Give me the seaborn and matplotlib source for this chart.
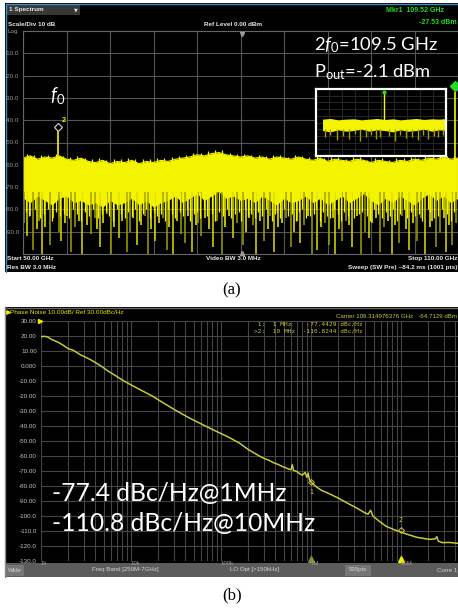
import numpy as np
import matplotlib
matplotlib.use("Agg")
import matplotlib.pyplot as plt
from matplotlib.patches import Rectangle
from matplotlib.ticker import LogLocator, NullFormatter
import seaborn as sns

# ---- data ----
# (a) spectrum 50-110 GHz, dBm
band_freq = list(range(50, 111))
band_top = [-57.0, -56.0, -57.5, -56.5, -57.0, -56.0, -57.5, -58.0, -57.0, -58.5,
            -59.0, -58.0, -59.5, -58.5, -59.0, -58.0, -59.5, -58.5, -59.0, -58.0,
            -58.5, -57.5, -57.0, -56.5, -55.5, -56.0, -55.0, -54.5, -55.5, -56.0,
            -56.5, -56.0, -57.0, -56.5, -57.5, -56.5, -57.0, -57.5, -56.5, -57.5,
            -58.0, -57.0, -58.5, -57.5, -58.0, -58.5, -57.5, -58.0, -59.0, -58.0,
            -58.5, -59.0, -58.0, -58.5, -57.5, -58.0, -57.0, -57.5, -56.5, -57.5,
            -57.0]
band_bottom = [-75, -77, -74, -76, -78, -75, -74, -77, -76, -78,
               -77, -79, -76, -78, -77, -75, -78, -76, -79, -77,
               -76, -74, -77, -75, -73, -76, -74, -72, -75, -74,
               -76, -75, -77, -74, -76, -78, -75, -77, -76, -74,
               -77, -75, -78, -76, -74, -77, -75, -73, -76, -78,
               -75, -77, -74, -76, -78, -75, -73, -76, -74, -77,
               -75]
grass_freq = [f + 0.5 for f in range(50, 110)]
grass_level = [-55.0, -55.5, -55.5, -55.5, -55.0, -56.0, -56.5, -56.0, -57.0, -57.5,
               -57.0, -58.0, -57.5, -57.5, -57.0, -57.5, -57.5, -57.5, -57.0, -57.0,
               -56.5, -56.0, -55.5, -54.5, -54.5, -54.0, -53.5, -53.5, -54.5, -55.0,
               -55.0, -55.5, -55.5, -56.0, -55.5, -55.5, -56.5, -55.5, -56.0, -56.5,
               -56.0, -57.0, -56.5, -56.5, -57.5, -56.5, -56.5, -58.0, -57.0, -57.0,
               -58.0, -57.0, -57.0, -56.5, -57.0, -56.0, -56.0, -55.5, -56.0, -56.0]
deep_freq = [50.6, 51.4, 52.6, 53.7, 55.3, 56.6, 58.2, 59.4, 60.6, 62.1,
             63.2, 64.3, 65.7, 67.2, 68.2, 69.8, 70.7, 72.3, 73.3, 74.6,
             76.2, 77.4, 79.0, 80.3, 82.1, 83.3, 84.6, 86.9, 88.2, 89.9,
             90.6, 92.2, 93.1, 94.0, 95.4, 96.6, 97.7, 99.3, 100.9, 101.8,
             103.2, 104.4, 105.5, 106.9, 108.3, 109.2]
deep_level = [-92, -98, -100, -96, -94, -99, -100, -91, -97, -100,
              -93, -99, -96, -100, -94, -98, -100, -95, -99, -92,
              -97, -100, -93, -96, -100, -94, -99, -97, -95, -100,
              -98, -96, -100, -94, -97, -100, -93, -99, -100, -95,
              -98, -94, -100, -97, -99, -96]
mid_freq = [50.2, 51.0, 51.9, 52.2, 53.1, 54.2, 54.9, 55.8, 56.1, 57.2,
            57.7, 58.8, 59.9, 60.2, 61.1, 61.6, 62.6, 63.7, 64.8, 65.2,
            66.3, 66.8, 67.7, 68.8, 69.3, 70.2, 71.3, 71.8, 72.8, 73.8,
            74.2, 75.1, 75.7, 76.7, 77.9, 78.4, 79.5, 80.8, 81.2, 81.7,
            82.7, 83.8, 84.1, 85.2, 85.7, 86.3, 87.4, 87.8, 88.7, 89.3,
            91.1, 91.6, 92.7, 93.6, 94.6, 95.0, 96.0, 97.2, 98.2, 98.7,
            99.8, 100.3, 101.3, 102.3, 102.8, 103.8, 104.9, 106.1, 106.4, 107.5,
            108.0, 108.8, 109.7]
mid_level = [-86, -83, -89, -85, -88, -84, -90, -86, -83, -88,
             -85, -87, -84, -89, -86, -82, -88, -85, -90, -84,
             -87, -83, -89, -86, -84, -88, -85, -91, -83, -87,
             -86, -84, -89, -85, -88, -83, -86, -90, -84, -87,
             -85, -89, -83, -88, -86, -84, -90, -85, -87, -83,
             -88, -86, -84, -89, -85, -87, -83, -90, -86, -84,
             -88, -85, -87, -83, -89, -86, -84, -88, -85, -90,
             -84, -87, -86]
shallow_freq = [50.4, 50.8, 51.6, 52.4, 52.9, 53.4, 54.0, 54.5, 55.1, 55.6,
                56.4, 56.9, 57.4, 58.0, 58.5, 59.1, 59.6, 60.4, 60.9, 61.4,
                61.9, 62.4, 62.9, 63.5, 64.0, 64.5, 65.0, 65.5, 66.0, 66.6,
                67.0, 67.5, 68.0, 68.5, 69.0, 69.6, 70.0, 70.5, 71.0, 71.6,
                72.1, 72.6, 73.1, 73.6, 74.0, 74.4, 74.9, 75.4, 76.0, 76.5,
                77.0, 77.6, 78.1, 78.7, 79.2, 79.8, 80.1, 80.6, 81.0, 81.5,
                82.0, 82.4, 82.9, 83.5, 84.4, 84.8, 85.0, 85.5, 86.0, 86.6,
                87.1, 87.6, 88.0, 88.5, 89.0, 89.6, 90.1, 90.4, 90.9, 91.4,
                91.9, 92.4, 92.9, 93.4, 93.8, 94.3, 94.8, 95.2, 95.7, 96.3,
                96.8, 97.4, 97.9, 98.4, 99.0, 99.5, 100.0, 100.6, 101.1, 101.6,
                102.0, 102.6, 103.0, 103.5, 104.0, 104.6, 105.1, 105.8, 106.2, 106.7,
                107.2, 107.8, 108.5, 109.0, 109.5]
shallow_level = [-81, -83, -80, -84, -82, -80, -85, -81, -83, -82,
                 -84, -80, -82, -85, -81, -83, -80, -84, -82, -81,
                 -83, -85, -80, -82, -84, -81, -83, -80, -85, -82,
                 -80, -84, -81, -83, -82, -85, -80, -82, -84, -81,
                 -83, -80, -85, -82, -81, -84, -80, -83, -82, -85,
                 -81, -83, -80, -84, -82, -81, -85, -80, -83, -82,
                 -84, -81, -83, -80, -85, -82, -81, -84, -80, -83,
                 -82, -85, -81, -80, -84, -83, -82, -80, -85, -81,
                 -83, -84, -80, -82, -85, -81, -83, -80, -84, -82,
                 -81, -83, -85, -80, -82, -84, -81, -83, -80, -85,
                 -82, -80, -84, -81, -83, -82, -85, -80, -81, -84,
                 -83, -80, -82, -85, -81]
f0_freq, f0_level = 54.8, -43.5
mkr1_freq, mkr1_level = 109.52, -27.53
a_ylabels = ['-90.0', '-80.0', '-70.0', '-60.0', '-50.0', '-40.0', '-30.0', '-20.0', '-10.0']

# (a) inset around 2f0
inset_freq = [108.58, 108.7, 108.82, 108.94, 109.06, 109.18, 109.3, 109.42, 109.54,
              109.66, 109.78, 109.9, 110.02, 110.14, 110.26, 110.38, 110.48]
inset_top = [-45, -44, -46, -45, -44.5, -46, -45, -44, -45.5,
             -44.5, -46, -45, -44, -45.5, -44.5, -45, -44]
inset_bottom = [-62, -64, -61, -63, -62, -60, -63, -61, -62,
                -64, -61, -63, -62, -60, -63, -61, -62]
inset_dip_freq = [108.62, 108.7, 108.8, 108.9, 108.98, 109.08, 109.15, 109.25, 109.33, 109.4, 109.47,
                  109.6, 109.7, 109.77, 109.86, 109.95, 110.05, 110.12, 110.2, 110.3, 110.36, 110.44]
inset_dip_level = [-72, -68, -76, -70, -74, -67, -78, -71, -69, -75, -72,
                   -70, -77, -68, -73, -71, -76, -69, -74, -70, -72, -68]
inset_peak = -4.5

# (b) phase noise, offset Hz vs dBc/Hz
pn_freq = [1.0e3, 1.1e3, 1.2e3, 1.3e3, 1.45e3, 1.6e3, 1.8e3, 2.0e3, 2.3e3, 2.5e3,
           2.8e3, 3.2e3, 3.6e3, 4.2e3, 4.8e3, 5.6e3, 6.8e3, 8.1e3, 1.0e4, 1.3e4,
           1.7e4, 2.2e4, 3.1e4, 4.5e4, 6.3e4, 8.9e4, 1.23e5, 1.6e5, 2.0e5, 2.4e5,
           2.7e5, 3.0e5, 3.4e5, 3.8e5, 4.3e5, 4.8e5, 5.2e5, 5.6e5, 6.0e5, 6.2e5,
           6.4e5, 7.0e5, 7.4e5, 8.0e5, 8.6e5, 9.0e5, 9.3e5, 9.6e5, 1.0e6, 1.15e6,
           1.3e6, 1.6e6, 2.0e6, 2.5e6, 3.2e6, 3.9e6, 4.3e6, 4.6e6, 4.9e6, 5.6e6,
           6.8e6, 8.3e6, 1.0e7, 1.2e7, 1.5e7, 1.8e7, 2.1e7, 2.4e7, 2.5e7, 2.6e7,
           2.9e7, 3.4e7, 4.3e7]
pn_level = [19.5, 19.8, 19.2, 17.8, 16.6, 15.4, 13.5, 11.6, 10.4, 9.0,
            7.2, 5.6, 4.0, 1.6, -0.6, -3.5, -6.6, -9.5, -12.6, -16.2,
            -19.8, -24.0, -29.4, -34.8, -39.2, -43.6, -47.6, -51.4, -55.6, -58.4,
            -60.2, -61.6, -62.8, -64.4, -65.6, -67.0, -67.8, -68.6, -69.2, -65.8,
            -69.6, -70.4, -71.6, -72.8, -71.0, -74.2, -71.4, -75.6, -77.4, -80.6,
            -82.8, -85.2, -88.0, -91.2, -94.6, -97.6, -98.8, -96.2, -100.2, -103.0,
            -106.8, -109.0, -110.8, -112.4, -114.2, -115.0, -115.6, -115.2, -113.8, -116.8,
            -117.8, -117.6, -118.2]
mkr_freq = [1.0e6, 1.0e7]
mkr_level = [-77.4429, -110.8244]
b_yticks = list(range(-130, 31, 10))
b_ylabels = ['-130.0', '-120.0', '-110.0', '-100.0', '-90.00', '-80.00', '-70.00', '-60.00', '-50.00',
             '-40.00', '-30.00', '-20.00', '-10.00', '0.000', '10.00', '20.00', '30.00']
b_xlabels = {1e3: '1k', 1e4: '10k', 1e5: '100k', 1e6: '1M', 1e7: '10M'}

# ---- style ----
sns.set_style("dark")
plt.rcParams['font.family'] = ['Liberation Sans', 'DejaVu Sans']
plt.rcParams['mathtext.fontset'] = 'custom'
plt.rcParams['mathtext.rm'] = 'Lato'
plt.rcParams['mathtext.it'] = 'Lato:italic'

YEL = '#f4f400'
DIM = '#a0a000'
PN = '#c8c83c'
UI = '#e6e6e6'

W, H = 458, 608
fig = plt.figure(figsize=(W / 100, H / 100), dpi=100, facecolor='white')


def px_axes(x0, y0, x1, y1):
    return fig.add_axes([x0 / W, 1 - y1 / H, (x1 - x0) / W, (y1 - y0) / H])


# background pieces (pixel coordinates)
bg = px_axes(0, 0, W, H)
bg.set_xlim(0, W)
bg.set_ylim(H, 0)
bg.axis('off')
bg.add_patch(Rectangle((5, 3), 453, 269, fc='black', lw=0))
bg.plot([5.5, 458], [3.5, 3.5], color='#3d8fc7', lw=1)
bg.plot([5.5, 5.5], [3.5, 272], color='#3d8fc7', lw=1)
bg.add_patch(Rectangle((6, 4), 74, 11, fc='#383838', lw=0))
bg.add_patch(Rectangle((5, 307), 453, 270, fc='black', lw=0))
bg.plot([5, 5], [307, 577], color='#8a8a8a', lw=1)
bg.plot([5, 458], [307.5, 307.5], color='#6a6a6a', lw=1)
bg.add_patch(Rectangle((5, 563), 453, 14, fc='#5c5c5c', lw=0))
for bx0, bx1 in [(6, 24), (345, 371)]:
    bg.add_patch(Rectangle((bx0, 564.5), bx1 - bx0, 11, fc='#767676', lw=0))

# ---- panel (a) ----
ax_a = px_axes(23, 31, 458, 254)
ax_a.set_facecolor('black')
ax_a.set_xlim(50, 110)
ax_a.set_ylim(-100, 0)
ax_a.set_xticks(np.arange(50, 111, 6))
ax_a.set_yticks(range(-90, 0, 10))
ax_a.set_yticklabels(a_ylabels)
ax_a.grid(True, color='#555555', lw=0.8)
ax_a.tick_params(length=0, labelbottom=False, labelsize=4.5, labelcolor='#9a9a9a', pad=2.5)
for s in ax_a.spines.values():
    s.set_color('#666666')
    s.set_linewidth(0.8)
ax_a.vlines(deep_freq, deep_level, -72, color=[DIM if i % 2 else '#dcdc00' for i in range(len(deep_freq))], lw=1.1)
ax_a.vlines(mid_freq, mid_level, -72, color=[YEL if i % 3 else DIM for i in range(len(mid_freq))], lw=1.1)
ax_a.vlines(shallow_freq, shallow_level, -72, color=YEL, lw=0.9)
ax_a.vlines(grass_freq, -62, grass_level, color=YEL, lw=0.9)
ax_a.fill_between(band_freq, band_bottom, band_top, color=YEL, lw=0)
sns.lineplot(x=band_freq, y=band_top, ax=ax_a, color=YEL, lw=0.8)
ax_a.vlines(f0_freq, -58, f0_level, color=YEL, lw=1.2)
ax_a.plot(f0_freq, f0_level + 0.5, marker='D', ms=4.5, mfc='black', mec='#d8d8d8', mew=0.8)
ax_a.text(f0_freq + 0.5, f0_level + 2.5, '2', color='#e8e800', fontsize=5.5, weight='bold')
ax_a.vlines(mkr1_freq, -58, mkr1_level, color=YEL, lw=1.2)
ax_a.plot(mkr1_freq, mkr1_level + 3, marker='D', ms=5, color='#22dd22', clip_on=False)

# inset
ax_in = px_axes(316, 89, 446, 156)
ax_in.set_facecolor('black')
ax_in.set_xlim(108.48, 110.48)
ax_in.set_ylim(-100, 0)
ax_in.set_xticks(np.linspace(108.48, 110.48, 11))
ax_in.set_yticks(range(-100, 1, 10))
ax_in.grid(True, color='#2c2c2c', lw=0.6)
ax_in.tick_params(length=0, labelbottom=False, labelleft=False)
for s in ax_in.spines.values():
    s.set_color('white')
    s.set_linewidth(1.6)
ax_in.vlines(inset_dip_freq, inset_dip_level, -60, color=DIM, lw=1.0)
ax_in.fill_between(inset_freq, inset_bottom, inset_top, color=YEL, lw=0)
ax_in.vlines(mkr1_freq, -60, inset_peak, color=YEL, lw=1.0)
ax_in.plot(mkr1_freq, inset_peak, marker='o', ms=2, color='#22dd22')

# ---- panel (b) ----
ax_b = px_axes(41, 321, 458, 561)
ax_b.set_facecolor('black')
ax_b.set_xscale('log')
ax_b.set_xlim(1e3, 4.3e7)
ax_b.set_ylim(-130, 30)
ax_b.xaxis.set_major_locator(LogLocator(base=10))
ax_b.xaxis.set_minor_locator(LogLocator(base=10, subs=np.arange(2, 10)))
ax_b.xaxis.set_major_formatter(NullFormatter())
ax_b.xaxis.set_minor_formatter(NullFormatter())
ax_b.set_yticks(b_yticks)
ax_b.set_yticklabels(b_ylabels)
ax_b.grid(True, which='both', color='#454545', lw=0.8)
ax_b.tick_params(which='both', length=0, labelsize=4.5, labelcolor='#c4c4c4', pad=3)
for s in ax_b.spines.values():
    s.set_visible(False)
sns.lineplot(x=pn_freq, y=pn_level, ax=ax_b, color=PN, lw=1.1, sort=False, estimator=None)
for f, lab in b_xlabels.items():
    ax_b.text(f, -131.4, lab, color='#9a9a9a', fontsize=4.3, ha='left', va='center')
ax_b.plot(mkr_freq[0], mkr_level[0], marker='D', ms=3, mfc='none', mec=PN, mew=0.7)
ax_b.text(mkr_freq[0], mkr_level[0] - 7, '1', color=PN, fontsize=5, ha='center', va='center')
ax_b.plot(mkr_freq[1], mkr_level[1] + 1.5, marker='D', ms=3, mfc='none', mec=PN, mew=0.7)
ax_b.text(mkr_freq[1], mkr_level[1] + 7.5, '2', color=PN, fontsize=5, ha='center', va='center')
ax_b.plot(mkr_freq[0], -128.6, marker='^', ms=5, color='#8c8c30', clip_on=False)
ax_b.plot(mkr_freq[1], -128.6, marker='^', ms=5, color='#f0f000', clip_on=False)

# ---- overlay texts ----
ov = px_axes(0, 0, W, H)
ov.set_xlim(0, W)
ov.set_ylim(H, 0)
ov.axis('off')
ov.patch.set_alpha(0)

small = dict(fontsize=4.6, weight='bold', color=UI, va='center')
ov.text(9, 9.5, '1 Spectrum', **small)
ov.text(76, 9.5, '\u25bc', fontsize=3.5, color=UI, ha='center', va='center', family='DejaVu Sans')
ov.text(8, 24, 'Scale/Div 10 dB', **small)
ov.text(233, 24, 'Ref Level 0.00 dBm', ha='center', **small)
ov.text(8, 31.5, 'Log', fontsize=4.6, color='#9a9a9a', va='center')
ov.text(386, 10, 'Mkr1  109.52 GHz', fontsize=5, weight='bold', color='#22dd22', va='center')
ov.text(457, 22, '-27.53 dBm', fontsize=5, weight='bold', color='#22dd22', va='center', ha='right')
ov.plot(242, 33.5, marker='v', ms=3, color='#9a9a9a')
ov.plot(242, 252.5, marker='^', ms=3, color='#9a9a9a')
ov.text(7, 258.5, 'Start 50.00 GHz', **small)
ov.text(7, 267.5, 'Res BW 3.0 MHz', **small)
ov.text(233, 258.5, 'Video BW 3.0 MHz', ha='center', **small)
ov.text(457, 258.5, 'Stop 110.00 GHz', ha='right', **small)
ov.text(457, 267.5, 'Sweep (SW Pre) ~84.2 ms (1001 pts)', ha='right', **small)

big = dict(color='white', family='Lato', va='center')
ov.text(314, 45, r'2$f_0$=109.5 GHz', fontsize=13.2, **big)
ov.text(314, 72, r'P$_{\mathrm{out}}$=-2.1 dBm', fontsize=13.2, **big)
ov.text(50, 95, r'$f_0$', fontsize=13.5, **big)

ov.text(232, 290, '(a)', fontsize=12, family='Liberation Serif', ha='center', va='center', color='black')
ov.text(232, 595, '(b)', fontsize=12, family='Liberation Serif', ha='center', va='center', color='black')

ov.plot(7.5, 312, marker='>', ms=2.5, color='#e8e800')
ov.text(10, 312, 'Phase Noise 10.00dB/ Ref 30.00dBc/Hz', fontsize=4.6, color='#e8e800', va='center')
ov.plot(39.5, 321, marker='>', ms=3, color='#e8e800')
ov.text(457, 316.5, 'Carrier 109.314976376 GHz   -64.7129 dBm', fontsize=4.4, color=PN, va='center', ha='right')
ov.text(254, 323.5, ' 1:  1 MHz    -77.4429 dBc/Hz', fontsize=4.4, color=PN, va='center', family='DejaVu Sans Mono')
ov.text(254, 331, '>2:  10 MHz  -110.8244 dBc/Hz', fontsize=4.4, color=PN, va='center', family='DejaVu Sans Mono')

ov.text(52, 493, '-77.4 dBc/Hz@1MHz', fontsize=17.7, **big)
ov.text(52, 524, '-110.8 dBc/Hz@10MHz', fontsize=17.7, **big)

bar = dict(fontsize=4.4, color='#d6d6d6', va='center')
ov.text(8, 570, 'Wide', **bar)
ov.text(125, 570, 'Freq Band [250M-7GHz]', ha='center', **bar)
ov.text(255, 570, 'LO Opt [>150kHz]', ha='center', **bar)
ov.text(358, 570, '595pts', ha='center', **bar)
ov.text(457, 570, 'Corre 1', ha='right', **bar)

fig.savefig('out.png', dpi=100, facecolor='white')
